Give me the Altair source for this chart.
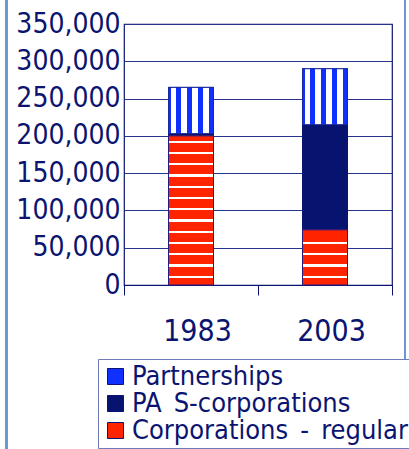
import altair as alt
import pandas as pd

# ---- data ----
years = ["1983", "2003"]
categories = ["Corporations\u2002-\u2002regular", "PA\u2002S-corporations", "Partnerships"]
regular = [200000, 74000]
s_corps = [3000, 141000]
partnerships = [62000, 75000]
y_ticks = [0, 50000, 100000, 150000, 200000, 250000, 300000, 350000]

NAVY = "#0B1470"
BLUE = "#1030FF"
DARK = "#06146F"
RED = "#FF2400"
FONT = "DejaVu Sans Condensed, Liberation Sans Narrow, DejaVu Sans"

W, H = 268, 261
YMAX = 350000

rows = []
for i, yr in enumerate(years):
    base = 0
    for cat, vals in zip(categories, [regular, s_corps, partnerships]):
        v = vals[i]
        rows.append({"year": yr, "cat": cat, "v0": base, "v1": base + v})
        base += v
df = pd.DataFrame(rows)

# ---- pattern styling (gradients with hard stops) ----
def hard_stops(bands):
    stops = []
    for (a, b, c) in bands:
        stops.append({"offset": a, "color": c})
        stops.append({"offset": b, "color": c})
    return stops

# vertical blue stripes (fractions of bar width 45px)
edges = [0, 2.7, 7.7, 12.7, 18.3, 23.7, 29.3, 35.0, 40.3, 45.0]
vbands = []
for k in range(len(edges) - 1):
    vbands.append((edges[k] / 45, edges[k + 1] / 45, BLUE if k % 2 == 0 else "#FFFFFF"))
grad_part = {"gradient": "linear", "x1": 0, "y1": 0, "x2": 1, "y2": 0,
             "stops": hard_stops(vbands)}

def red_grad(value):
    h = value / YMAX * H
    lines = []
    k = 0
    while True:
        d = 8.3 + 11.25 * k
        if d > h - 2:
            break
        top = (h - d - 1.1) / h
        bot = (h - d + 1.1) / h
        lines.append((max(top, 0), min(bot, 1)))
        k += 1
    lines.sort()
    bands = []
    pos = 0.0
    for a, b in lines:
        bands.append((pos, a, RED))
        bands.append((a, b, "#FFFFFF"))
        pos = b
    bands.append((pos, 1.0, RED))
    return {"gradient": "linear", "x1": 0, "y1": 0, "x2": 0, "y2": 1,
            "stops": hard_stops(bands)}

legend_order = ["Partnerships", "PA\u2002S-corporations", "Corporations\u2002-\u2002regular"]

xenc = alt.X("year:N", title=None,
             scale=alt.Scale(paddingInner=0, paddingOuter=0),
             axis=alt.Axis(labelAngle=0, labelFontSize=30, labelFont=FONT, labelColor=NAVY,
                           tickBand="extent", tickSize=10, tickColor=NAVY, domainColor=NAVY,
                           labelPadding=21, labelOffset=6, grid=False))
yenc = alt.Y("v0:Q", title=None,
             scale=alt.Scale(domain=[0, YMAX], nice=False),
             axis=alt.Axis(values=y_ticks, format=",.0f",
                           labelExpr="datum.value == 0 ? '0\u00a0\u00a0' : datum.label",
                           labelFontSize=28, labelFont=FONT,
                           labelColor=NAVY, ticks=False, domain=False, labelPadding=4,
                           labelOverlap=False, labelFlush=False,
                           grid=True, gridColor="#27338F", gridWidth=1.2))

base = alt.Chart(df).mark_bar(size=45, stroke=NAVY, strokeWidth=1).encode(
    x=xenc,
    y=yenc,
    y2="v1:Q",
    fill=alt.Fill("cat:N",
                  scale=alt.Scale(domain=legend_order, range=[BLUE, DARK, RED]),
                  legend=alt.Legend(title=None, orient="none", legendX=-26, legendY=335,
                                    padding=4, rowPadding=-2, labelFontSize=27, labelFont=FONT,
                                    labelColor=NAVY, labelOffset=3, labelLimit=500,
                                    symbolType="square", symbolSize=256,
                                    symbolStrokeColor=NAVY, symbolStrokeWidth=1,
                                    strokeColor="#6F7AB8", fillColor="#FFFFFF")),
)

layers = [base]
# partnerships overlay
layers.append(
    alt.Chart(df).transform_filter(alt.datum.cat == "Partnerships")
    .mark_bar(size=45, stroke="#1A2A9A", strokeWidth=1)
    .encode(x=xenc, y=yenc, y2="v1:Q", fill=alt.value(grad_part))
)
# regular overlays, one per year
for i, yr in enumerate(years):
    layers.append(
        alt.Chart(df).transform_filter(
            (alt.datum.cat == categories[0]) & (alt.datum.year == yr))
        .mark_bar(size=45, stroke="#2A1A80", strokeWidth=1)
        .encode(x=xenc, y=yenc, y2="v1:Q", fill=alt.value(red_grad(regular[i])))
    )

# decorative outer frame lines
frame_l = alt.Chart(df).mark_rule(color="#6E96D6", strokeWidth=2).encode(
    x=alt.value(-117.5), y=alt.value(-30), y2=alt.value(430))
frame_r = alt.Chart(df).mark_rule(color="#6E96D6", strokeWidth=2).encode(
    x=alt.value(281), y=alt.value(-30), y2=alt.value(430))
layers += [frame_l, frame_r]

chart = alt.layer(*layers).properties(
    width=W, height=H,
    background="#FFFFFF",
    autosize=alt.AutoSizeParams(type="none"),
    padding={"left": 124, "top": 24, "right": 17, "bottom": 164},
).configure_view(stroke=NAVY, strokeWidth=1.2)

chart.save("out.html", embed_options={"renderer": "svg", "actions": False})
